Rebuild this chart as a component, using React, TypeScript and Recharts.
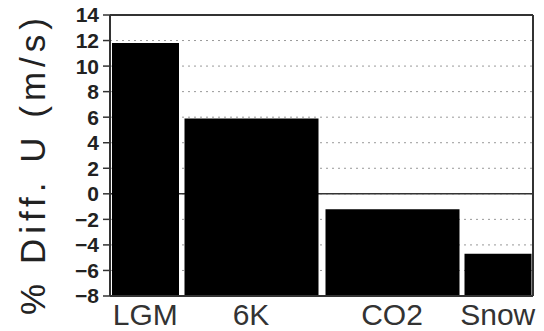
import React from 'react';
import { BarChart, Bar, XAxis, YAxis, CartesianGrid, ReferenceLine } from 'recharts';

const categories = ['LGM', '6K', 'CO2', 'Snow'];
const values = [11.8, 5.9, -1.2, -4.7];
const spans = [1, 2, 2, 1];
const yTicks = [-8, -6, -4, -2, 0, 2, 4, 6, 8, 10, 12, 14];
const yMin = -8;
const yMax = 14;

const mids = spans.map((s, i) => spans.slice(0, i).reduce((a, b) => a + b, 0) + s / 2);
const xMax = spans.reduce((a, b) => a + b, 0);

const data = categories.map((name, i) => ({
  name,
  midN: spans[i] === 1 ? mids[i] : undefined,
  midW: spans[i] === 2 ? mids[i] : undefined,
  narrow: spans[i] === 1 ? [yMin, values[i]] : undefined,
  wide: spans[i] === 2 ? [yMin, values[i]] : undefined,
}));

const fmtY = (v: number) => (v < 0 ? '\u2212' + Math.abs(v) : String(v));
const fmtX = (v: number) => {
  const i = mids.indexOf(v);
  return i >= 0 ? categories[i] : '';
};

const YLabel = () => (
  <text
    x={45}
    y={164}
    transform="rotate(-90 45 164)"
    textAnchor="middle"
    fontSize={35}
    letterSpacing={5}
    fill="#222"
    fontFamily="Liberation Sans, Arial, sans-serif"
  >
    % Diff. U (m/s)
  </text>
);

export default function App() {
  return (
    <div style={{ position: 'absolute', left: 0, top: 0, background: '#fff' }}>
      <BarChart
        width={544}
        height={331}
        data={data}
        margin={{ top: 15, right: 11, bottom: 0, left: 0 }}
        style={{ fontFamily: 'Liberation Sans, Arial, sans-serif' }}
      >
        <CartesianGrid
          vertical={false}
          stroke="#999"
          strokeDasharray="2 4"
          xAxisId="n"
        />
        <CartesianGrid
          vertical={false}
          horizontalValues={[0]}
          stroke="#333"
          strokeWidth={1.5}
          xAxisId="n"
        />
        <XAxis
          xAxisId="n"
          type="number"
          dataKey="midN"
          domain={[0, xMax]}
          ticks={mids}
          tickFormatter={fmtX}
          interval={0}
          height={35}
          tickLine={false}
          axisLine={{ stroke: '#333', strokeWidth: 2 }}
          tick={{ fontSize: 30, fill: '#333' }}
          tickSize={6}
          tickMargin={2}
        />
        <XAxis xAxisId="w" type="number" dataKey="midW" domain={[0, xMax]} hide />
        <YAxis
          type="number"
          domain={[yMin, yMax]}
          ticks={yTicks}
          interval={0}
          width={110}
          tickFormatter={fmtY}
          tick={{ fontSize: 21, fontWeight: 'bold', fill: '#222' }}
          tickSize={7}
          tickMargin={4}
          tickLine={{ stroke: '#333', strokeWidth: 1.5 }}
          axisLine={{ stroke: '#333', strokeWidth: 2 }}
          label={<YLabel />}
        />
        <Bar xAxisId="n" dataKey="narrow" barSize={67} fill="#000" isAnimationActive={false} />
        <Bar xAxisId="w" dataKey="wide" barSize={134} fill="#000" isAnimationActive={false} />
        <ReferenceLine y={yMax} xAxisId="n" stroke="#333" strokeWidth={2} />
        <ReferenceLine x={xMax} xAxisId="n" stroke="#333" strokeWidth={2} />
      </BarChart>
    </div>
  );
}
